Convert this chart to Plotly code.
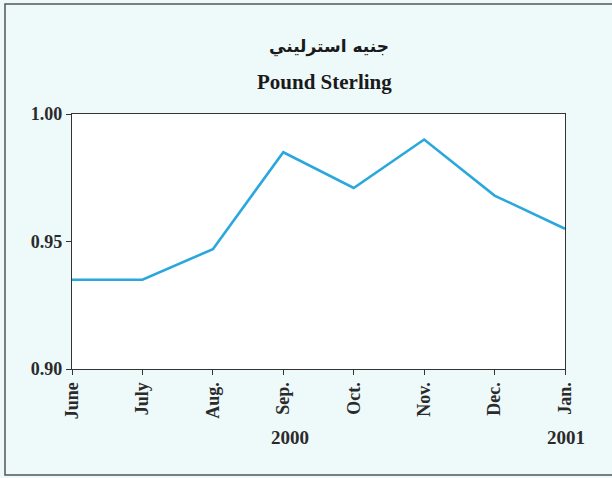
import plotly.graph_objects as go

months = ["June", "July", "Aug.", "Sep.", "Oct.", "Nov.", "Dec.", "Jan."]
values = [0.935, 0.935, 0.947, 0.985, 0.971, 0.990, 0.968, 0.955]
year_labels = ["2000", "2001"]
year_positions = ["Sep.", "Jan."]
y_ticks = [0.90, 0.95, 1.00]
y_tick_text = ["0.90", "0.95", "1.00"]

FONT = "Liberation Serif"
x_idx = list(range(len(months)))

fig = go.Figure()
fig.add_trace(go.Scatter(
    x=x_idx, y=values, mode="lines",
    line=dict(color="#2aa8dd", width=2.6),
    showlegend=False, hoverinfo="skip",
))

L, R, T, B = 72, 47, 114, 109
W, H = 612, 478
pw, ph = W - L - R, H - T - B

def px_x(p):
    return (p - L) / pw

def px_y(p):
    return 1 - (p - T) / ph

fig.update_layout(
    width=W, height=H,
    margin=dict(l=L, r=R, t=T, b=B),
    paper_bgcolor="#eef9fa",
    plot_bgcolor="#ffffff",
    font=dict(family=FONT, color="#2a2a2a"),
    xaxis=dict(
        range=[0, len(months) - 1],
        tickmode="array", tickvals=x_idx, ticktext=months,
        tickangle=-90,
        tickfont=dict(family=FONT, size=18, color="#2a2a2a", weight="bold"),
        showgrid=False, zeroline=False,
        showline=True, linecolor="#333333", linewidth=1.3, mirror=True,
        ticks="outside", ticklen=5, tickcolor="#333333",
    ),
    yaxis=dict(
        range=[0.90, 1.00],
        tickmode="array", tickvals=y_ticks, ticktext=y_tick_text,
        tickfont=dict(family=FONT, size=18, color="#2a2a2a", weight="bold"),
        showgrid=False, zeroline=False,
        showline=True, linecolor="#333333", linewidth=1.3, mirror=True,
        ticks="outside", ticklen=5, tickcolor="#333333",
    ),
)

# Titles
fig.add_annotation(text="<b>جنيه استرليني</b>", xref="paper", yref="paper",
                   x=px_x(329), y=px_y(46), showarrow=False,
                   xanchor="center", yanchor="middle",
                   font=dict(family="DejaVu Sans", size=17, color="#1a1a1a"))
fig.add_annotation(text="<b>Pound Sterling</b>", xref="paper", yref="paper",
                   x=px_x(324), y=px_y(82), showarrow=False,
                   xanchor="center", yanchor="middle",
                   font=dict(family=FONT, size=21, color="#1a1a1a"))

# Year labels (placed relative to their month position, in paper units)
n = len(months) - 1
for lab, pos in zip(year_labels, year_positions):
    xp = (months.index(pos) + (0.09 if lab == "2000" else 0.02)) / n
    fig.add_annotation(text=f"<b>{lab}</b>", xref="paper", yref="paper",
                       x=xp, y=px_y(437), showarrow=False,
                       xanchor="center", yanchor="middle",
                       font=dict(family=FONT, size=19, color="#2a2a2a"))

# Outer frame
fig.add_shape(type="rect", xref="paper", yref="paper",
              x0=px_x(5), x1=px_x(640), y0=px_y(475), y1=px_y(4),
              line=dict(color="#555555", width=1.5), layer="below")

fig.write_html("out.html",
               config={"displayModeBar": False},
               post_script="document.body.style.margin='0';document.body.style.background='#ffffff';")
